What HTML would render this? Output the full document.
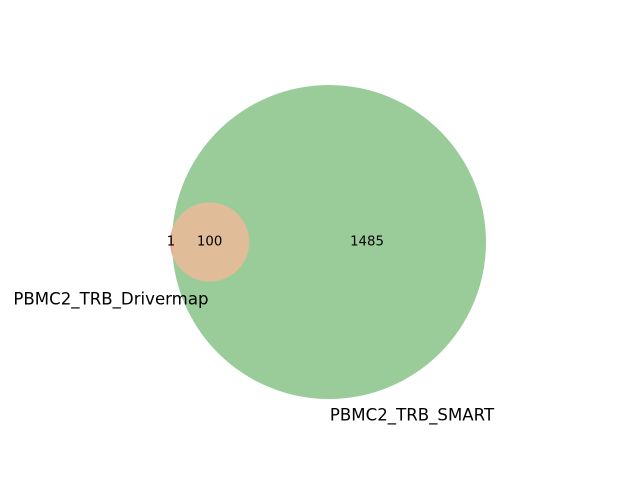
<!DOCTYPE html>
<html><head><meta charset="utf-8"><style>
html,body{margin:0;padding:0;background:#fff;}
svg{display:block;font-family:"DejaVu Sans","Liberation Sans",sans-serif;}
</style></head><body>
<svg id="chart" width="640" height="480" viewBox="0 0 640 480">
<defs><clipPath id="clipB"><circle id="clipCircle" cx="0" cy="0" r="0"/></clipPath></defs>
</svg>
<script>
const setNames = ["PBMC2_TRB_Drivermap", "PBMC2_TRB_SMART"];
const onlyA = [1];
const onlyB = [1485];
const both = [100];

const svgNS = "http://www.w3.org/2000/svg";
const svg = document.getElementById('chart');
const totalA = onlyA[0] + both[0];
const totalB = onlyB[0] + both[0];
const scale = 157 / Math.sqrt(totalB);
const rB = scale * Math.sqrt(totalB);
const rA = scale * Math.sqrt(totalA);
const cy = 242;
const cxB = 329;
const cxA = cxB - rB + rA - 2;

function el(tag, attrs) {
  const e = document.createElementNS(svgNS, tag);
  for (const k in attrs) e.setAttribute(k, attrs[k]);
  svg.appendChild(e);
  return e;
}
document.getElementById('clipCircle').setAttribute('cx', cxB);
document.getElementById('clipCircle').setAttribute('cy', cy);
document.getElementById('clipCircle').setAttribute('r', rB);

const a = el('circle', {cx: cxA, cy: cy, r: rA, fill: '#ff9999'});


const b = el('circle', {cx: cxB, cy: cy, r: rB, fill: '#9acc9a'});


const ov = el('circle', {cx: cxA, cy: cy, r: rA, fill: '#e0bc98', 'clip-path': 'url(#clipB)'});



function txt(x, y, s, size, name, anchor) {
  const t = el('text', {x: x, y: y, 'font-size': size, 'text-anchor': anchor || 'middle', 'dominant-baseline': 'central', fill: '#000'});
  t.textContent = s;
  
  
  return t;
}
txt(cxA - rA + 1, cy, String(onlyA[0]), 13.3, 'count-a-only');
txt(cxA, cy, String(both[0]), 13.3, 'count-overlap');
txt(cxB + 38, cy, String(onlyB[0]), 13.3, 'count-b-only');
txt(111, 299, setNames[0], 16.6, 'set-a-label');
txt(412, 415, setNames[1], 16.6, 'set-b-label');
</script>
</body></html>
